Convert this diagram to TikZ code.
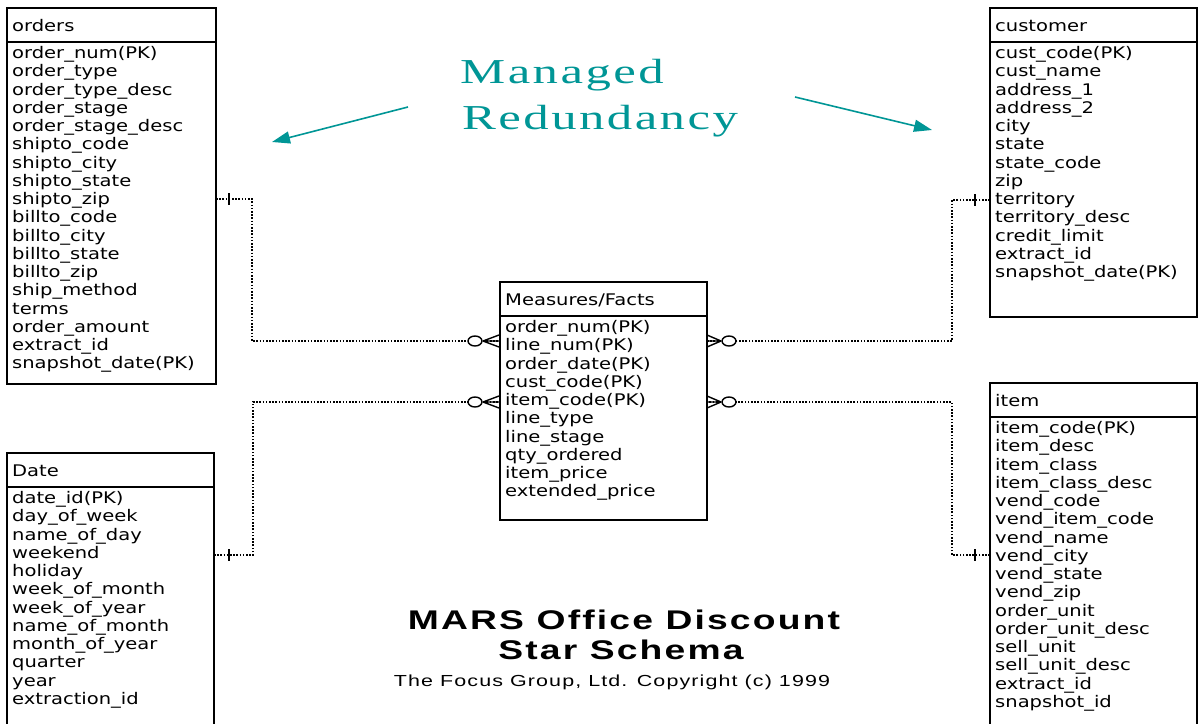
\documentclass[tikz,border=0pt]{standalone}
\usepackage{fontspec}
\usetikzlibrary{arrows.meta,calc}
\newfontfamily\tabfont[FakeStretch=1.22]{DejaVu Sans}
\newfontfamily\titlefont[FakeStretch=1.38,LetterSpace=8]{Liberation Sans}
\newfontfamily\copyfont[FakeStretch=1.34,LetterSpace=7]{Liberation Sans}
\newfontfamily\redfont[FakeStretch=1.45,LetterSpace=7]{Liberation Serif}
\definecolor{mrteal}{RGB}{0,150,150}
\tikzset{
  tbox/.style={draw=black, line width=1.6pt, rectangle, inner sep=0pt, outer sep=0pt},
  trow/.style={inner sep=0pt, anchor=west, font=\tabfont\fontsize{16}{18}\selectfont, text height=11.5pt, text depth=3.5pt},
  tline/.style={line width=1.6pt},
  rel/.style={line width=1.3pt, dash pattern=on 1.6pt off 1.6pt},
  endmark/.style={line width=1.4pt},
  tealarrow/.style={mrteal, line width=1.6pt, -{Triangle[length=18pt,width=12pt]}},
  redtxt/.style={inner sep=0pt, text=mrteal, font=\redfont\fontsize{35}{40}\selectfont},
  titletxt/.style={inner sep=0pt, font=\titlefont\bfseries\fontsize{27}{30}\selectfont},
  copytxt/.style={inner sep=0pt, font=\copyfont\fontsize{16}{18}\selectfont},
}
% #1 name, #2 left x, #3 top y, #4 width, #5 height, #6 header, #7 rows
\newcommand{\erdtable}[7]{%
  \node[tbox, minimum width=#4pt, minimum height=#5pt, anchor=north west] (#1) at (#2,#3) {};
  \node[trow] (#1-h) at ({#2+5},{#3+19}) {#6};
  \draw[tline] (#1.north west) ++(0,34) -- ++(#4,0);
  \foreach \rowtext [count=\i] in {#7} {
    \node[trow] (#1-\i) at ({#2+5},{#3+46.5+(\i-1)*18.25}) {\rowtext};
  }
}
\newcommand{\barmark}[2]{\draw[endmark] ({#1},{#2-6}) -- ({#1},{#2+6});}
% crow's foot opening to the right (box on the right), apex at #1
\newcommand{\crowtoright}[2]{%
  \draw[endmark] ({#1},{#2}) -- ({#1+16},{#2-6}) ({#1},{#2}) -- ({#1+16},{#2+6}) ({#1},{#2}) -- ({#1+16},{#2});
  \draw[endmark, fill=white] ({#1-8},{#2}) ellipse [x radius=7pt, y radius=5pt];}
% crow's foot opening to the left (box on the left), apex at #1
\newcommand{\crowtoleft}[2]{%
  \draw[endmark] ({#1},{#2}) -- ({#1-14},{#2-6}) ({#1},{#2}) -- ({#1-14},{#2+6}) ({#1},{#2}) -- ({#1-14},{#2});
  \draw[endmark, fill=white] ({#1+8},{#2}) ellipse [x radius=7pt, y radius=5pt];}
\begin{document}
\begin{tikzpicture}[x=1pt,y=-1pt]
\useasboundingbox (0,0) rectangle (1201,723);
\fill[white] (0,0) rectangle (1201,723);
\clip (0,0) rectangle (1201,723);

\erdtable{orders}{7}{8}{209}{376}{orders}{order\_num(PK),order\_type,order\_type\_desc,order\_stage,order\_stage\_desc,shipto\_code,shipto\_city,shipto\_state,shipto\_zip,billto\_code,billto\_city,billto\_state,billto\_zip,ship\_method,terms,order\_amount,extract\_id,snapshot\_date(PK)}

\erdtable{customer}{990}{8}{207}{309}{customer}{cust\_code(PK),cust\_name,address\_1,address\_2,city,state,state\_code,zip,territory,territory\_desc,credit\_limit,extract\_id,snapshot\_date(PK)}

\erdtable{measures}{500}{282}{207}{238}{Measures/Facts}{order\_num(PK),line\_num(PK),order\_date(PK),cust\_code(PK),item\_code(PK),line\_type,line\_stage,qty\_ordered,item\_price,extended\_price}

\erdtable{date}{7}{453}{207}{320}{Date}{date\_id(PK),day\_of\_week,name\_of\_day,weekend,holiday,week\_of\_month,week\_of\_year,name\_of\_month,month\_of\_year,quarter,year,extraction\_id}

\erdtable{item}{990}{383}{207}{360}{item}{item\_code(PK),item\_desc,item\_class,item\_class\_desc,vend\_code,vend\_item\_code,vend\_name,vend\_city,vend\_state,vend\_zip,order\_unit,order\_unit\_desc,sell\_unit,sell\_unit\_desc,extract\_id,snapshot\_id}

% relationships
\draw[rel] (orders.east |- 0,199) -- (252,199) -- (252,341) -- (measures.west |- 0,341);
\barmark{229}{199}
\crowtoright{483}{341}

\draw[rel] (customer.west |- 0,200) -- (952,200) -- (952,341) -- (measures.east |- 0,341);
\barmark{975}{200}
\crowtoleft{721}{341}

\draw[rel] (date.east |- 0,555) -- (253,555) -- (253,402) -- (measures.west |- 0,402);
\barmark{229}{555}
\crowtoright{483}{402}

\draw[rel] (item.west |- 0,555) -- (952,555) -- (952,402) -- (measures.east |- 0,402);
\barmark{975}{555}
\crowtoleft{721}{402}

% managed redundancy
\node[redtxt, anchor=base west] (mr1) at (460,83) {Managed};
\node[redtxt, anchor=base west] (mr2) at (462,129) {Redundancy};
\coordinate (la) at (408,107);
\coordinate (lb) at (272,142);
\coordinate (ra) at (795,97);
\coordinate (rb) at (932,130);
\draw[tealarrow] (la) -- (lb);
\draw[tealarrow] (ra) -- (rb);

% titles
\node[titletxt, anchor=base] (title1) at (624,629) {MARS Office Discount};
\node[titletxt, anchor=base] (title2) at (621,659) {Star Schema};
\node[copytxt, anchor=base] (copy) at (612,686) {The Focus Group, Ltd. Copyright (c) 1999};
\end{tikzpicture}
\end{document}
